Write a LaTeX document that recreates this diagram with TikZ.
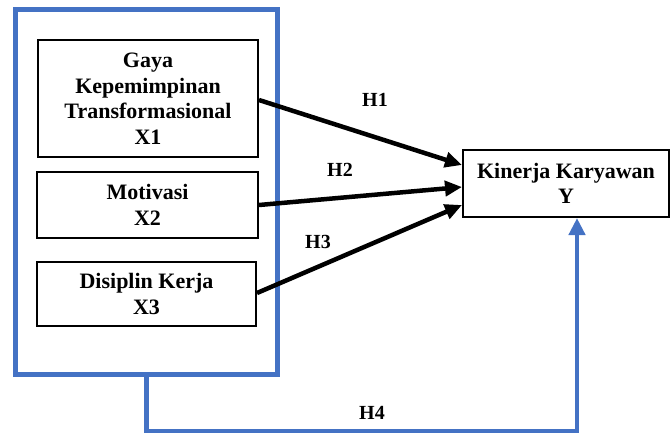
\documentclass[tikz,border=0pt]{standalone}
\usepackage{fontspec}
\setmainfont{Liberation Serif}
\usetikzlibrary{arrows.meta}
\definecolor{frameblue}{RGB}{68,114,196}
\tikzset{
  varbox/.style={draw,line width=2pt,align=center,inner sep=0pt,
    font=\fontsize{22}{25.5}\selectfont\bfseries},
  hyp/.style={font=\fontsize{20}{24}\selectfont\bfseries},
  path/.style={line width=4.5pt,-{Triangle[length=17pt,width=15pt]}},
  bluepath/.style={frameblue,line width=4.5pt,-{Triangle[length=17pt,width=16pt]}}
}
\begin{document}
\begin{tikzpicture}[x=1pt,y=-1pt]
        \useasboundingbox(0,0)rectangle(671,434);
        \node[draw=frameblue,line width=5pt,minimum width=262pt,minimum height=364.5pt](grp)at(146.5,191.75){};
        \node[varbox,minimum width=220pt,minimum height=117pt](x1)at(148,98.5){Gaya\\Kepemimpinan\\Transformasional\\X1};
        \node[varbox,minimum width=221pt,minimum height=66pt](x2)at(147.5,205){Motivasi\\X2};
        \node[varbox,minimum width=219pt,minimum height=64pt](x3)at(146.5,294){Disiplin Kerja\\X3};
        \node[varbox,minimum width=206pt,minimum height=67pt](y)at(566,183.5){Kinerja Karyawan\\Y};
        \node[hyp](h1)at(375,100){H1};
        \node[hyp](h2)at(340,170){H2};
        \node[hyp](h3)at(318,242){H3};
        \node[hyp](h4)at(372,413){H4};
        \coordinate(turn)at(577,431);
        \draw[path]([yshift=-1.5pt]x1.east)--([yshift=18.5pt]y.west);
        \draw[path](x2.east)--([yshift=-3.5pt]y.west);
        \draw[path]([yshift=1pt]x3.east)--([yshift=-21.5pt]y.west);
        \draw[bluepath](grp.south)|-(turn)--(turn|-y.south);
    \end{tikzpicture}
\end{document}
